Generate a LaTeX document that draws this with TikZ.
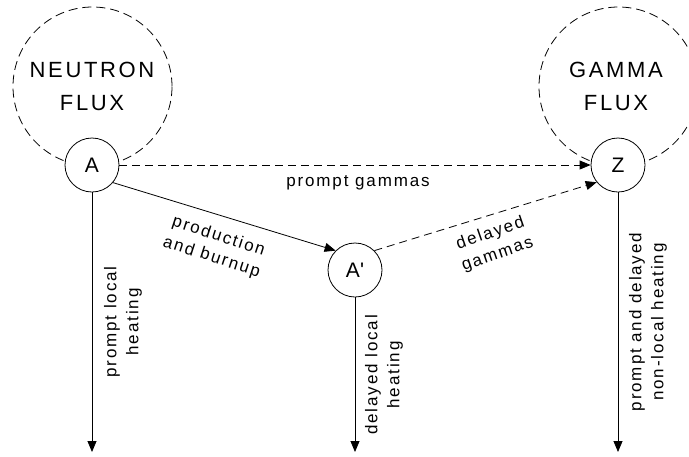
\documentclass[tikz,border=0pt]{standalone}
\usepackage{fontspec}
\setmainfont{Liberation Sans}
\newfontfamily\bigfont[LetterSpace=12]{Liberation Sans}
\newfontfamily\lblfont[LetterSpace=11]{Liberation Sans}
\usetikzlibrary{arrows.meta}
\begin{document}
\begin{tikzpicture}[x=1pt,y=-1pt,
  flux/.style={circle,draw,dash pattern=on 9pt off 5pt,line width=0.8pt,minimum size=159pt,inner sep=0pt},
  port/.style={circle,draw,fill=white,line width=0.8pt,minimum size=54pt,inner sep=0pt,font=\bigfont\fontsize{21}{30}\selectfont},
  fluxtext/.style={align=center,font=\bigfont\fontsize{22}{33}\selectfont},
  lbl/.style={align=center,font=\lblfont\fontsize{17}{22}\selectfont,inner sep=0pt},
  conn/.style={line width=0.8pt,-{Triangle[length=11pt,width=9pt]}},
  dconn/.style={conn,dash pattern=on 8pt off 5pt}]
\useasboundingbox (0,0) rectangle (689,456);
\clip (0,0) rectangle (689,456);
\node[flux] (nf) at (92.5,86.5) {};
\node[fluxtext] (nft) at (92,86) {NEUTRON\\FLUX};
\node[flux] (gf) at (618.5,86.5) {};
\node[fluxtext] (gft) at (616,86) {GAMMA\\FLUX};
\node[port] (A) at (92,165) {A};
\node[port] (Z) at (618,165) {Z};
\node[port] (Ap) at (355,270) {A\textquotesingle};
\coordinate (Aend) at (92,452);
\coordinate (Apend) at (355,452);
\coordinate (Zend) at (618,452);
\draw[conn] (A) -- (Aend);
\draw[conn] (Ap) -- (Apend);
\draw[conn] (Z) -- (Zend);
\draw[dconn] (A.east) -- (Z.west);
\draw[conn] (A.-40) -- (Ap.135);
\draw[dconn] (Ap.45) -- (Z.-141);
\node[lbl] (lpg) at (358,183) {prompt gammas};
\node[lbl,rotate=-18] (lpb) at (215,247) {production\\and burnup};
\node[lbl,rotate=19] (ldg) at (494,244) {delayed\\gammas};
\node[lbl,rotate=90] (lpl) at (123,322) {prompt local\\heating};
\node[lbl,rotate=90] (ldl) at (384,375) {delayed local\\heating};
\node[lbl,rotate=90] (lnl) at (648,322) {prompt and delayed\\non-local heating};
\end{tikzpicture}
\end{document}
